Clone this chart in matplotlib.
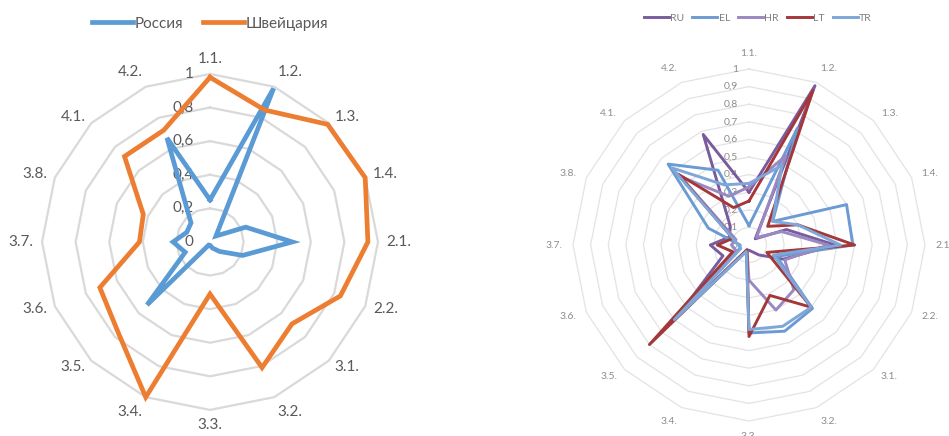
import numpy as np
import matplotlib
matplotlib.use('Agg')
import matplotlib.pyplot as plt

plt.rcParams['font.family'] = ['Lato', 'DejaVu Sans']

categories = ['1.1.', '1.2.', '1.3.', '1.4.', '2.1.', '2.2.', '3.1.', '3.2.',
              '3.3.', '3.4.', '3.5.', '3.6.', '3.7.', '3.8.', '4.1.', '4.2.']

# left radar: Russia vs Switzerland
russia = [0.25, 0.99, 0.05, 0.23, 0.49, 0.21, 0.08, 0.04,
          0.02, 0.02, 0.53, 0.16, 0.22, 0.15, 0.16, 0.67]
switzerland = [0.98, 0.85, 0.99, 1.0, 0.94, 0.84, 0.69, 0.81,
               0.31, 1.0, 0.77, 0.71, 0.42, 0.43, 0.72, 0.72]

# right radar: five countries
ru = [0.30, 0.98, 0.05, 0.23, 0.49, 0.21, 0.08, 0.04,
      0.03, 0.03, 0.58, 0.16, 0.22, 0.12, 0.15, 0.68]
el = [0.11, 0.72, 0.19, 0.60, 0.59, 0.17, 0.51, 0.53,
      0.50, 0.04, 0.61, 0.06, 0.05, 0.25, 0.65, 0.46]
hr = [0.33, 0.55, 0.06, 0.20, 0.45, 0.22, 0.36, 0.40,
      0.20, 0.03, 0.60, 0.08, 0.10, 0.08, 0.55, 0.30]
lt = [0.25, 0.95, 0.15, 0.30, 0.60, 0.11, 0.50, 0.31,
      0.52, 0.03, 0.80, 0.10, 0.18, 0.10, 0.57, 0.23]
tr = [0.35, 0.49, 0.19, 0.30, 0.52, 0.15, 0.50, 0.50,
      0.48, 0.04, 0.60, 0.05, 0.06, 0.10, 0.62, 0.37]

left_ticks = [0, 0.2, 0.4, 0.6, 0.8, 1]
right_ticks = [0, 0.1, 0.2, 0.3, 0.4, 0.5, 0.6, 0.7, 0.8, 0.9, 1]

n = len(categories)
theta = np.linspace(0, 2 * np.pi, n, endpoint=False)
theta_c = np.append(theta, theta[0])


def closed(v):
    return np.append(v, v[0])


def setup_radar(ax, ticks, grid_color, grid_lw, label_size, label_color,
                tick_size, tick_color, tick_dx, label_r):
    ax.set_theta_offset(np.pi / 2)
    ax.set_theta_direction(-1)
    ax.set_ylim(0, 1)
    ax.grid(False)
    ax.set_xticks([])
    ax.set_yticks([])
    ax.spines['polar'].set_visible(False)
    ax.patch.set_alpha(0)
    for lvl in ticks[1:]:
        ax.plot(theta_c, [lvl] * (n + 1), color=grid_color, lw=grid_lw,
                zorder=1, clip_on=False)
    # category labels around the outside
    for t, lab in zip(theta, categories):
        s, c = np.sin(t), np.cos(t)
        ha = 'center' if abs(s) < 0.1 else ('left' if s > 0 else 'right')
        va = 'center' if abs(c) < 0.85 else ('bottom' if c > 0 else 'top')
        ax.text(t, label_r, lab, ha=ha, va=va, fontsize=label_size,
                color=label_color)
    # value labels along the vertical axis
    for v in ticks:
        lbl = ('%g' % v).replace('.', ',')
        ax.annotate(lbl, xy=(0, v), xytext=(tick_dx, 0),
                    textcoords='offset points', ha='right', va='center',
                    fontsize=tick_size, color=tick_color, zorder=2)


fig = plt.figure(figsize=(9.49, 4.36), dpi=100)

# left chart
ax1 = fig.add_axes([0.0443, 0.0596, 0.354, 0.771], projection='polar')
setup_radar(ax1, left_ticks, '#d9d9d9', 1.6, 11, '#595959', 11, '#595959',
            -12, 1.05)
ax1.plot(theta_c, closed(russia), color='#5b9bd5', lw=3.4, label='Россия',
         zorder=3, clip_on=False, solid_joinstyle='miter')
ax1.plot(theta_c, closed(switzerland), color='#ed7d31', lw=3.4,
         label='Швейцария', zorder=3, clip_on=False, solid_joinstyle='miter')
ax1.legend(loc='center', bbox_to_anchor=(0.5, 1.15), ncol=2, frameon=False,
           fontsize=11, handlelength=2.7, handletextpad=0.1,
           columnspacing=1.3, labelcolor='#595959')

# right chart
ax2 = fig.add_axes([0.6038, 0.0344, 0.3709, 0.8073], projection='polar')
setup_radar(ax2, right_ticks, '#e3e3e3', 0.9, 7.5, '#8c8c8c', 7.5, '#8c8c8c',
            -8, 1.06)
right_series = [('RU', ru, '#7a5c9e'), ('EL', el, '#6b9bd2'),
                ('HR', hr, '#9a88c2'), ('LT', lt, '#a3373a'),
                ('TR', tr, '#7ea6d8')]
for name, vals, col in right_series:
    ax2.plot(theta_c, closed(vals), color=col, lw=2.1, label=name,
             zorder=3, clip_on=False)
ax2.legend(loc='center', bbox_to_anchor=(0.525, 1.145), ncol=5, frameon=False,
           fontsize=7.5, handlelength=2.4, handletextpad=0.1,
           columnspacing=0.8, labelcolor='#7f7f7f')

fig.savefig('out.png', dpi=100)
